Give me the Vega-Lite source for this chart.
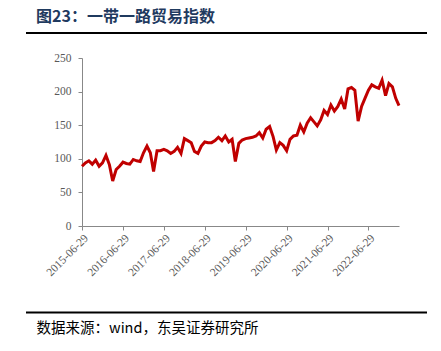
{
  "$schema": "https://vega.github.io/schema/vega-lite/v6.json",
  "width": 317,
  "height": 168,
  "autosize": {"type": "none"},
  "padding": {"left": 82, "top": 58, "right": 42, "bottom": 125},
  "background": "white",
  "config": {"view": {"stroke": null}},
  "title": {
    "text": "图23：一带一路贸易指数",
    "anchor": "start",
    "frame": "group",
    "dx": -46,
    "offset": 7,
    "font": "Noto Sans CJK SC",
    "fontSize": 16,
    "fontWeight": "bold",
    "color": "#1f3a5f"
  },
  "layer": [
    {
      "data": {
        "values": [
          {"date": "2015-06-29", "value": 89},
          {"date": "2015-07-29", "value": 94},
          {"date": "2015-08-29", "value": 97},
          {"date": "2015-09-29", "value": 92},
          {"date": "2015-10-29", "value": 98},
          {"date": "2015-11-29", "value": 89},
          {"date": "2015-12-29", "value": 94},
          {"date": "2016-01-29", "value": 105},
          {"date": "2016-02-29", "value": 91},
          {"date": "2016-03-29", "value": 67},
          {"date": "2016-04-29", "value": 84},
          {"date": "2016-05-29", "value": 89},
          {"date": "2016-06-29", "value": 95},
          {"date": "2016-07-29", "value": 93},
          {"date": "2016-08-29", "value": 92},
          {"date": "2016-09-29", "value": 99},
          {"date": "2016-10-29", "value": 97},
          {"date": "2016-11-29", "value": 96},
          {"date": "2016-12-29", "value": 109},
          {"date": "2017-01-29", "value": 119},
          {"date": "2017-02-28", "value": 109},
          {"date": "2017-03-29", "value": 81},
          {"date": "2017-04-29", "value": 112},
          {"date": "2017-05-29", "value": 112},
          {"date": "2017-06-29", "value": 114},
          {"date": "2017-07-29", "value": 112},
          {"date": "2017-08-29", "value": 108},
          {"date": "2017-09-29", "value": 111},
          {"date": "2017-10-29", "value": 117},
          {"date": "2017-11-29", "value": 108},
          {"date": "2017-12-29", "value": 130},
          {"date": "2018-01-29", "value": 127},
          {"date": "2018-02-28", "value": 124},
          {"date": "2018-03-29", "value": 111},
          {"date": "2018-04-29", "value": 108},
          {"date": "2018-05-29", "value": 119},
          {"date": "2018-06-29", "value": 125},
          {"date": "2018-07-29", "value": 124},
          {"date": "2018-08-29", "value": 124},
          {"date": "2018-09-29", "value": 127},
          {"date": "2018-10-29", "value": 132},
          {"date": "2018-11-29", "value": 127},
          {"date": "2018-12-29", "value": 134},
          {"date": "2019-01-29", "value": 125},
          {"date": "2019-02-28", "value": 129},
          {"date": "2019-03-29", "value": 96},
          {"date": "2019-04-29", "value": 123},
          {"date": "2019-05-29", "value": 128},
          {"date": "2019-06-29", "value": 130},
          {"date": "2019-07-29", "value": 131},
          {"date": "2019-08-29", "value": 132},
          {"date": "2019-09-29", "value": 134},
          {"date": "2019-10-29", "value": 139},
          {"date": "2019-11-29", "value": 131},
          {"date": "2019-12-29", "value": 144},
          {"date": "2020-01-29", "value": 148},
          {"date": "2020-02-29", "value": 133},
          {"date": "2020-03-29", "value": 113},
          {"date": "2020-04-29", "value": 124},
          {"date": "2020-05-29", "value": 120},
          {"date": "2020-06-29", "value": 112},
          {"date": "2020-07-29", "value": 129},
          {"date": "2020-08-29", "value": 134},
          {"date": "2020-09-29", "value": 135},
          {"date": "2020-10-29", "value": 150},
          {"date": "2020-11-29", "value": 140},
          {"date": "2020-12-29", "value": 153},
          {"date": "2021-01-29", "value": 161},
          {"date": "2021-02-28", "value": 155},
          {"date": "2021-03-29", "value": 149},
          {"date": "2021-04-29", "value": 158},
          {"date": "2021-05-29", "value": 172},
          {"date": "2021-06-29", "value": 166},
          {"date": "2021-07-29", "value": 180},
          {"date": "2021-08-29", "value": 171},
          {"date": "2021-09-29", "value": 178},
          {"date": "2021-10-29", "value": 189},
          {"date": "2021-11-29", "value": 174},
          {"date": "2021-12-29", "value": 204},
          {"date": "2022-01-29", "value": 206},
          {"date": "2022-02-28", "value": 202},
          {"date": "2022-03-29", "value": 156},
          {"date": "2022-04-29", "value": 178},
          {"date": "2022-05-29", "value": 190},
          {"date": "2022-06-29", "value": 202},
          {"date": "2022-07-29", "value": 210},
          {"date": "2022-08-29", "value": 207},
          {"date": "2022-09-29", "value": 205},
          {"date": "2022-10-29", "value": 217},
          {"date": "2022-11-29", "value": 194},
          {"date": "2022-12-29", "value": 212},
          {"date": "2023-01-29", "value": 207},
          {"date": "2023-02-28", "value": 190},
          {"date": "2023-03-29", "value": 179}
        ]
      },
      "mark": {"type": "line", "color": "#C00000", "strokeWidth": 3},
      "encoding": {
        "x": {
          "field": "date",
          "type": "temporal",
          "scale": {
            "type": "utc",
            "domain": [
              {"year": 2015, "month": 6, "date": 29, "utc": true},
              {"year": 2023, "month": 3, "date": 29, "utc": true}
            ]
          },
          "axis": {
            "values": [
              {"year": 2015, "month": 6, "date": 29, "utc": true},
              {"year": 2016, "month": 6, "date": 29, "utc": true},
              {"year": 2017, "month": 6, "date": 29, "utc": true},
              {"year": 2018, "month": 6, "date": 29, "utc": true},
              {"year": 2019, "month": 6, "date": 29, "utc": true},
              {"year": 2020, "month": 6, "date": 29, "utc": true},
              {"year": 2021, "month": 6, "date": 29, "utc": true},
              {"year": 2022, "month": 6, "date": 29, "utc": true}
            ],
            "labelExpr": "utcFormat(datum.value, '%Y-%m-%d')",
            "labelAngle": -45,
            "labelOverlap": false,
            "labelFont": "Liberation Serif",
            "labelFontSize": 11.5,
            "labelColor": "#595959",
            "labelPadding": 2,
            "domainColor": "#888888",
            "tickColor": "#888888",
            "tickSize": 4,
            "grid": false,
            "title": "数据来源：wind，东吴证券研究所",
            "titleFont": "Noto Sans CJK SC",
            "titleFontSize": 14.5,
            "titleFontWeight": "normal",
            "titleColor": "#000000",
            "titleAnchor": "start",
            "titleAlign": "left",
            "titleBaseline": "middle",
            "titleX": -46,
            "titleY": 102
          }
        },
        "y": {
          "field": "value",
          "type": "quantitative",
          "scale": {"domain": [0, 250]},
          "axis": {
            "values": [0, 50, 100, 150, 200, 250],
            "labelFont": "Liberation Serif",
            "labelFontSize": 11.5,
            "labelColor": "#595959",
            "labelPadding": 7,
            "domainColor": "#888888",
            "tickColor": "#888888",
            "tickSize": 4,
            "grid": false,
            "title": null
          }
        }
      }
    },
    {
      "data": {"values": [{"pos": "top"}]},
      "mark": {"type": "rule", "color": "#000000", "strokeWidth": 2},
      "encoding": {"x": {"value": -56}, "x2": {"value": 345}, "y": {"value": -25}}
    },
    {
      "data": {"values": [{"pos": "bottom"}]},
      "mark": {"type": "rule", "color": "#000000", "strokeWidth": 2},
      "encoding": {"x": {"value": -56}, "x2": {"value": 345}, "y": {"value": 254.5}}
    }
  ]
}
